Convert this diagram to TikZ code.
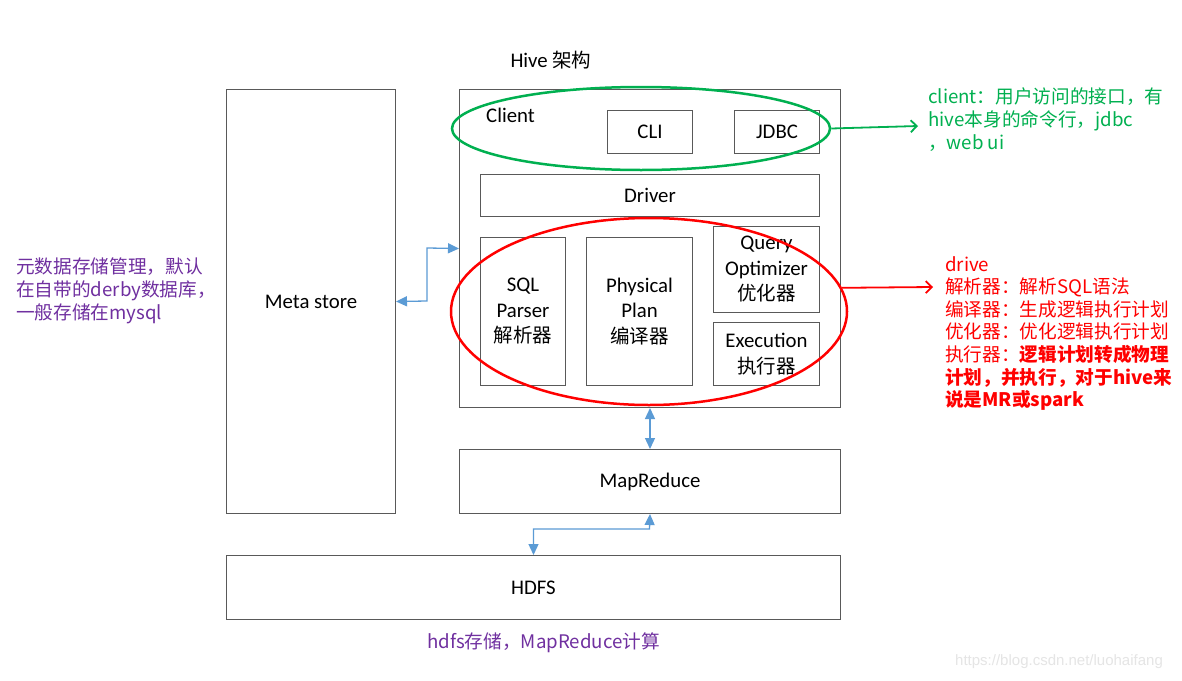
\documentclass[tikz,border=0pt]{standalone}
\usepackage{fontspec}
\setmainfont{Carlito}
\newfontfamily\cjk{Noto Sans CJK SC}
\newfontfamily\wmfont{Liberation Sans}
\usetikzlibrary{shapes.geometric,arrows.meta}
\definecolor{boxline}{RGB}{89,89,89}
\definecolor{arrowblue}{RGB}{91,155,213}
\definecolor{annpurple}{RGB}{112,48,160}
\definecolor{anngreen}{RGB}{0,176,80}
\definecolor{annred}{RGB}{255,0,0}
\newcommand{\zh}[1]{{\cjk\fontsize{19.5}{25.5}\selectfont #1}}
\begin{document}
\begin{tikzpicture}[x=1pt,y=-1pt,
  box/.style={draw=boxline,line width=1pt,inner sep=0pt,anchor=north west,align=center,
    font=\fontsize{20.8}{25.5}\selectfont},
  lbl/.style={inner sep=0pt,font=\fontsize{20.8}{25.5}\selectfont},
  ann/.style={inner sep=0pt,anchor=north west,align=left,font=\cjk\fontsize{18.67}{22.6}\selectfont},
  biarrow/.style={draw=arrowblue,line width=1.3pt,{Triangle[length=11pt,width=10pt]}-{Triangle[length=11pt,width=10pt]}},
  callout/.style={line width=1.8pt,-{Straight Barb[length=6pt,width=12pt]}},
  ring/.style={ellipse,line width=2.5pt,inner sep=0pt}]
\useasboundingbox[fill=white] (0,0) rectangle (1182,680);

% title
\node[lbl] (title) at (551,60) {Hive \zh{架构}};

% boxes
\node[box,minimum width=169,minimum height=424] (meta) at (226,89) {Meta store};
\node[box,minimum width=381,minimum height=318] (hive) at (459,89) {};
\node[lbl,anchor=west] (client) at (486,115) {Client};
\node[box,minimum width=85,minimum height=43] (cli) at (607,110) {CLI};
\node[box,minimum width=85,minimum height=43] (jdbc) at (734,110) {JDBC};
\node[box,minimum width=339,minimum height=42] (driver) at (480,174) {Driver};
\node[box,minimum width=85,minimum height=148] (parser) at (480,237) {SQL\\Parser\\\zh{解析器}};
\node[box,minimum width=106,minimum height=148] (plan) at (586,237) {Physical\\Plan\\\zh{编译器}};
\node[box,minimum width=106,minimum height=86] (opt) at (713,226) {Query\\Optimizer\\\zh{优化器}};
\node[box,minimum width=106,minimum height=63] (exec) at (713,322) {Execution\\\zh{执行器}};
\node[box,minimum width=381,minimum height=64] (mr) at (459,449) {MapReduce};
\node[box,minimum width=614,minimum height=64] (hdfs) at (226,555) {HDFS};

% ellipses
\node[ring,draw=anngreen,minimum width=378,minimum height=83] (green) at (641,128.5) {};
\node[ring,draw=annred,minimum width=396,minimum height=187] (red) at (649,311.5) {};

% blue connectors
\draw[biarrow] (meta.east) -- (427,301) -- (427,248) -- (hive.west);
\draw[biarrow] (hive.south) -- (mr.north);
\draw[biarrow] (mr.south) -- (649.5,529) -| (hdfs.north);

% annotations
\node[ann,text=annpurple] (metanote) at (16,258) {元数据存储管理，默认\\在自带的derby数据库，\\一般存储在mysql};
\node[ann,text=anngreen] (clientnote) at (928,88) {client：用户访问的接口，有\\hive本身的命令行，jdbc\\，web ui};
\node[ann,text=annred] (drivenote) at (945,256) {drive\\解析器：解析SQL语法\\编译器：生成逻辑执行计划\\优化器：优化逻辑执行计划\\执行器：{\bfseries 逻辑计划转成物理}\\{\bfseries 计划，并执行，对于hive来}\\{\bfseries 说是MR或spark}};
\node[ann,anchor=west,text=annpurple] (hdfsnote) at (427,643) {hdfs存储，MapReduce计算};

\coordinate (gend) at (918,126);
\coordinate (rend) at (933,287);
\draw[callout,draw=anngreen] (green.east) -- (gend);
\draw[callout,draw=annred] (red.7) -- (rend);

% watermark
\node[inner sep=0pt,anchor=west,text=black!10,font=\wmfont\fontsize{15}{18}\selectfont] (wm) at (955,662) {https://blog.csdn.net/luohaifang};
\end{tikzpicture}
\end{document}
